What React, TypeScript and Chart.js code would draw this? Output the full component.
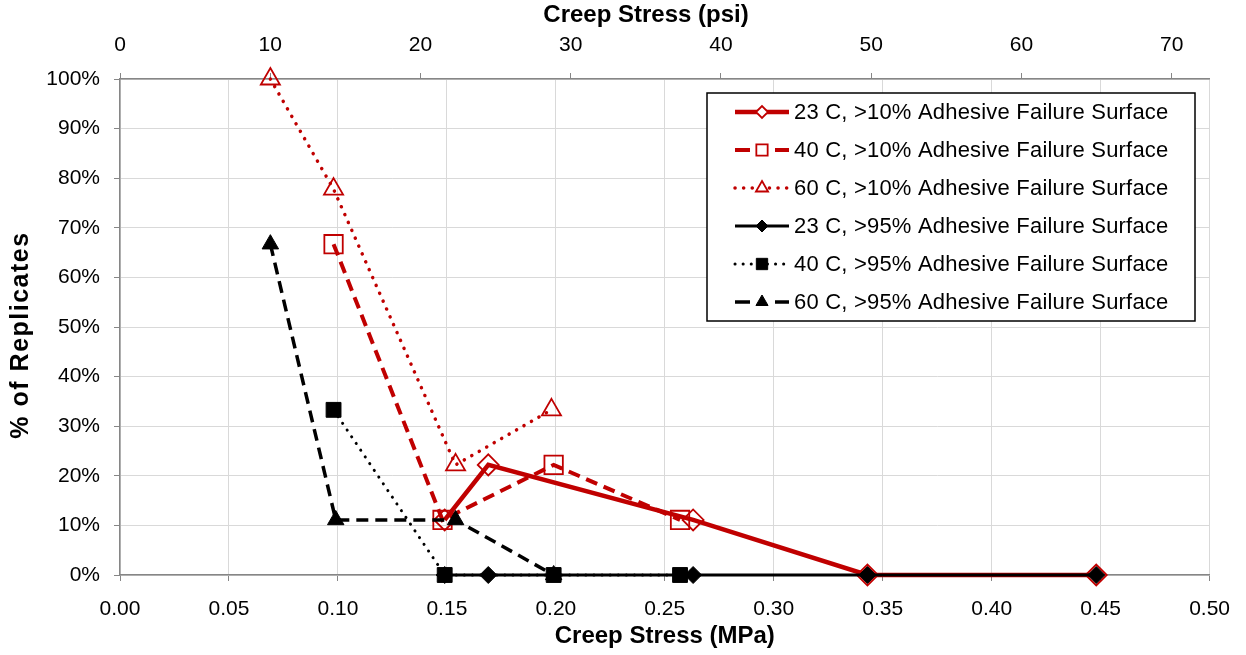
import React, { useEffect, useRef } from "react";
import { Chart, registerables } from "chart.js";

Chart.register(...registerables);

// ---- data ----
const mpa23_10 = [0.149, 0.169, 0.263, 0.343, 0.448];
const pct23_10 = [11.1, 22.2, 11.1, 0, 0];
const mpa40_10 = [0.098, 0.148, 0.199, 0.257];
const pct40_10 = [66.7, 11.1, 22.2, 11.1];
const mpa60_10 = [0.069, 0.098, 0.154, 0.198];
const pct60_10 = [100, 77.8, 22.2, 33.3];
const mpa23_95 = [0.149, 0.169, 0.263, 0.343, 0.448];
const pct23_95 = [0, 0, 0, 0, 0];
const mpa40_95 = [0.098, 0.149, 0.199, 0.257];
const pct40_95 = [33.3, 0, 0, 0];
const mpa60_95 = [0.069, 0.099, 0.154, 0.199];
const pct60_95 = [66.7, 11.1, 11.1, 0];

const seriesLabels = [
  "23 C, >10% Adhesive Failure Surface",
  "40 C, >10% Adhesive Failure Surface",
  "60 C, >10% Adhesive Failure Surface",
  "23 C, >95% Adhesive Failure Surface",
  "40 C, >95% Adhesive Failure Surface",
  "60 C, >95% Adhesive Failure Surface",
];

const mpaTicks = [0, 0.05, 0.1, 0.15, 0.2, 0.25, 0.3, 0.35, 0.4, 0.45, 0.5];
const psiTicks = [0, 10, 20, 30, 40, 50, 60, 70];
const pctTicks = [0, 10, 20, 30, 40, 50, 60, 70, 80, 90, 100];
const MPA_MAX = 0.5;
const PSI_PER_MPA = 145.038;

const TOP_TITLE = "Creep Stress (psi)";
const Y_TITLE = "% of Replicates";

const RED = "#c00000";
const BLACK = "#000000";
const AXIS = "#868686";
const GRID = "#d9d9d9";
const FONT = '"Liberation Sans", Arial, sans-serif';

const pts = (xs: number[], ys: number[]) => xs.map((x, i) => ({ x, y: ys[i] }));

function drawMarker(
  ctx: CanvasRenderingContext2D,
  style: string,
  cx: number,
  cy: number,
  r: number,
  fill: string | null,
  stroke: string,
  lw: number
) {
  ctx.save();
  ctx.setLineDash([]);
  ctx.beginPath();
  if (style === "rectRot") {
    ctx.moveTo(cx - r, cy);
    ctx.lineTo(cx, cy - r);
    ctx.lineTo(cx + r, cy);
    ctx.lineTo(cx, cy + r);
    ctx.closePath();
  } else if (style === "rect") {
    const s = Math.SQRT1_2 * r;
    ctx.rect(cx - s, cy - s, 2 * s, 2 * s);
  } else {
    const a = (2 * Math.PI) / 3;
    ctx.moveTo(cx, cy - r);
    ctx.lineTo(cx + Math.sin(a) * r, cy - Math.cos(a) * r);
    ctx.lineTo(cx + Math.sin(2 * a) * r, cy - Math.cos(2 * a) * r);
    ctx.closePath();
  }
  if (fill) {
    ctx.fillStyle = fill;
    ctx.fill();
  }
  ctx.strokeStyle = stroke;
  ctx.lineWidth = lw;
  ctx.stroke();
  ctx.restore();
}

const titlesPlugin = {
  id: "customTitles",
  afterDraw(chart: any) {
    const ctx: any = chart.ctx;
    ctx.save();
    ctx.fillStyle = "#000";
    ctx.textAlign = "center";
    ctx.textBaseline = "middle";
    ctx.font = `bold 24px ${FONT}`;
    ctx.letterSpacing = "0px";
    ctx.fillText(TOP_TITLE, 646, 15);
    ctx.translate(21, 335);
    ctx.rotate(-Math.PI / 2);
    ctx.font = `bold 25px ${FONT}`;
    ctx.letterSpacing = "1.5px";
    ctx.fillText(Y_TITLE, 0, 0);
    ctx.restore();
  },
};

const legendPlugin = {
  id: "boxLegend",
  afterDatasetsDraw(chart: any) {
    const ctx: any = chart.ctx;
    const x0 = 707;
    const y0 = 93;
    const w = 488;
    const h = 228;
    ctx.save();
    ctx.fillStyle = "#ffffff";
    ctx.fillRect(x0, y0, w, h);
    ctx.strokeStyle = "#000";
    ctx.lineWidth = 1.5;
    ctx.strokeRect(x0, y0, w, h);
    chart.data.datasets.forEach((ds: any, i: number) => {
      const cy = y0 + 19 + i * 38;
      ctx.save();
      ctx.strokeStyle = ds.borderColor;
      ctx.lineWidth = ds.borderWidth;
      ctx.lineCap = ds.borderCapStyle || "butt";
      ctx.setLineDash(ds.legendDash || ds.borderDash || []);
      ctx.beginPath();
      ctx.moveTo(x0 + 28, cy);
      ctx.lineTo(x0 + 82, cy);
      ctx.stroke();
      ctx.restore();
      drawMarker(
        ctx,
        ds.pointStyle,
        x0 + 55,
        cy,
        ds.legendRadius,
        ds.pointBackgroundColor === "transparent" ? "#ffffff" : ds.pointBackgroundColor,
        ds.pointBorderColor,
        ds.pointBorderWidth
      );
      ctx.fillStyle = "#000";
      ctx.font = `22px ${FONT}`;
      ctx.letterSpacing = "0.2px";
      ctx.textBaseline = "middle";
      ctx.textAlign = "left";
      ctx.fillText(ds.label, x0 + 87, cy + 1);
    });
    ctx.restore();
  },
};

export default function App() {
  const ref = useRef<HTMLCanvasElement | null>(null);

  useEffect(() => {
    document.body.style.margin = "0";
    if (!ref.current) return;
    Chart.defaults.font.family = FONT;
    const common = { showLine: true, clip: false as any, tension: 0 };
    const chart = new Chart(ref.current, {
      type: "scatter",
      data: {
        datasets: [
          {
            ...common,
            label: seriesLabels[0],
            data: pts(mpa23_10, pct23_10),
            borderColor: RED,
            borderWidth: 4.5,
            pointStyle: "rectRot",
            pointRadius: 10.5,
            pointBorderWidth: 1.8,
            pointBorderColor: RED,
            pointBackgroundColor: "transparent",
            order: 1,
            legendRadius: 6,
          } as any,
          {
            ...common,
            label: seriesLabels[1],
            data: pts(mpa40_10, pct40_10),
            borderColor: RED,
            borderWidth: 4,
            borderDash: [12, 7],
            legendDash: [15, 25],
            pointStyle: "rect",
            pointRadius: 13,
            pointBorderWidth: 1.8,
            pointBorderColor: RED,
            pointBackgroundColor: "transparent",
            order: 1,
            legendRadius: 8,
          } as any,
          {
            ...common,
            label: seriesLabels[2],
            data: pts(mpa60_10, pct60_10),
            borderColor: RED,
            borderWidth: 3.5,
            borderDash: [0.1, 8.5],
            borderCapStyle: "round",
            pointStyle: "triangle",
            pointRadius: 11,
            pointBorderWidth: 1.8,
            pointBorderColor: RED,
            pointBackgroundColor: "transparent",
            order: 1,
            legendRadius: 7,
          } as any,
          {
            ...common,
            label: seriesLabels[3],
            data: pts(mpa23_95, pct23_95),
            borderColor: BLACK,
            borderWidth: 3,
            pointStyle: "rectRot",
            pointRadius: 8.5,
            pointBorderWidth: 1,
            pointBorderColor: BLACK,
            pointBackgroundColor: BLACK,
            order: 0,
            legendRadius: 6,
          } as any,
          {
            ...common,
            label: seriesLabels[4],
            data: pts(mpa40_95, pct40_95),
            borderColor: BLACK,
            borderWidth: 3,
            borderDash: [0.1, 8],
            borderCapStyle: "round",
            pointStyle: "rect",
            pointRadius: 10.5,
            pointBorderWidth: 1,
            pointBorderColor: BLACK,
            pointBackgroundColor: BLACK,
            order: 0,
            legendRadius: 8,
          } as any,
          {
            ...common,
            label: seriesLabels[5],
            data: pts(mpa60_95, pct60_95),
            borderColor: BLACK,
            borderWidth: 3.5,
            borderDash: [12, 7],
            legendDash: [15, 25],
            pointStyle: "triangle",
            pointRadius: 9.5,
            pointBorderWidth: 1,
            pointBorderColor: BLACK,
            pointBackgroundColor: BLACK,
            order: 0,
            legendRadius: 7,
          } as any,
        ],
      },
      options: {
        animation: false,
        responsive: false,
        events: [],
        layout: { padding: { left: 0, right: 36, top: 0, bottom: 0 } },
        plugins: { legend: { display: false }, tooltip: { enabled: false } },
        scales: {
          x: {
            type: "linear",
            position: "bottom",
            min: 0,
            max: MPA_MAX,
            afterBuildTicks: (s: any) => {
              s.ticks = mpaTicks.map((v) => ({ value: v }));
            },
            afterFit: (s: any) => {
              s.height = 80;
            },
            ticks: {
              callback: (v: any) => Number(v).toFixed(2),
              font: { size: 21 },
              color: "#000",
              padding: 16,
              maxRotation: 0,
              autoSkip: false,
            },
            grid: { color: GRID, tickColor: AXIS, tickLength: 6, lineWidth: 1 },
            border: { color: AXIS, width: 1.5 },
            title: {
              display: true,
              text: "Creep Stress (MPa)",
              font: { size: 24, weight: "bold" },
              color: "#000",
              padding: { top: 0, bottom: 4 },
            },
          },
          x2: {
            type: "linear",
            position: "top",
            min: 0,
            max: MPA_MAX * PSI_PER_MPA,
            afterBuildTicks: (s: any) => {
              s.ticks = psiTicks.map((v) => ({ value: v }));
            },
            afterFit: (s: any) => {
              s.height = 79;
            },
            ticks: {
              font: { size: 21 },
              color: "#000",
              padding: 15,
              maxRotation: 0,
              autoSkip: false,
            },
            grid: { drawOnChartArea: false, tickColor: AXIS, tickLength: 6 },
            border: { color: AXIS, width: 1.5 },
            title: { display: false },
          },
          y: {
            type: "linear",
            position: "left",
            min: 0,
            max: 100,
            afterBuildTicks: (s: any) => {
              s.ticks = pctTicks.map((v) => ({ value: v }));
            },
            afterFit: (s: any) => {
              s.width = 120;
            },
            ticks: {
              callback: (v: any) => `${v}%`,
              font: { size: 21 },
              color: "#000",
              padding: 14,
              autoSkip: false,
            },
            grid: { color: GRID, tickColor: AXIS, tickLength: 6, lineWidth: 1 },
            border: { color: AXIS, width: 1.5 },
            title: { display: false },
          },
        },
      } as any,
      plugins: [legendPlugin, titlesPlugin],
    });
    return () => chart.destroy();
  }, []);

  return (
    <div style={{ width: 1246, height: 655 }}>
      <canvas ref={ref} width={1246} height={655} style={{ display: "block" }} />
    </div>
  );
}
